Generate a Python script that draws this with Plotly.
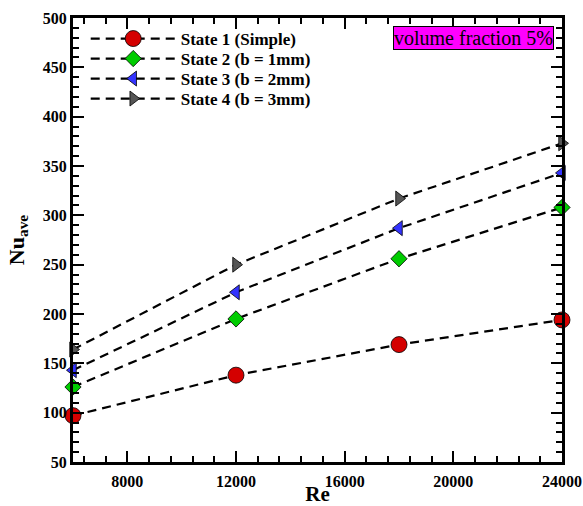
import plotly.graph_objects as go

re_vals = [6000, 12000, 18000, 24000]
state1 = [97, 138, 169, 194]
state2 = [126, 195, 256, 308]
state3 = [143, 222, 287, 343]
state4 = [164, 250, 317, 373]
names = ["State 1 (Simple)", "State 2 (b = 1mm)", "State 3 (b = 2mm)", "State 4 (b = 3mm)"]
series = [state1, state2, state3, state4]
colors = ["#d40000", "#00cc00", "#3333ff", "#555555"]
symbols = ["circle", "diamond", "triangle-left", "triangle-right"]
sizes = [16, 12.5, 13, 13]
legend_ids = ["legend", "legend2", "legend3", "legend4"]
legend_y = [0.9527, 0.9077, 0.8626, 0.8176]

font = "Liberation Serif"
fig = go.Figure()
for n, s, c, sym, sz, lg in zip(names, series, colors, symbols, sizes, legend_ids):
    fig.add_trace(go.Scatter(
        x=re_vals, y=s, name=n, mode="lines+markers", legend=lg,
        line=dict(color="black", width=2.2, dash="9px,6px"),
        marker=dict(symbol=sym, color=c, size=sz, line=dict(color="black", width=0.8)),
        cliponaxis=False,
    ))
# empty trace to register the overlay axes used for mirrored minor ticks
fig.add_trace(go.Scatter(x=[], y=[], xaxis="x2", yaxis="y2", showlegend=False, hoverinfo="skip"))

tick_common = dict(
    ticks="inside", ticklen=11, tickwidth=2, tickcolor="black",
    showgrid=False, zeroline=False, automargin=False,
)
xminor = dict(ticks="inside", ticklen=6, tickwidth=1.5, tickcolor="black", dtick=800, tick0=0, showgrid=False)
yminor = dict(ticks="inside", ticklen=6, tickwidth=1.5, tickcolor="black", dtick=10, tick0=0, showgrid=False)
xticks = [8000, 12000, 16000, 20000, 24000]

fig.update_layout(
    xaxis=dict(
        range=[6000, 24000], tickvals=xticks, tickformat="d",
        showline=True, linecolor="black", linewidth=3, mirror=True,
        minor=xminor, ticklabelstandoff=3,
        tickfont=dict(family=font, size=16, color="black", weight="bold"),
        title=dict(text="<b>Re</b>", font=dict(family=font, size=21, color="black"), standoff=10),
        **tick_common,
    ),
    yaxis=dict(
        range=[50, 500], dtick=50,
        showline=True, linecolor="black", linewidth=3, mirror=True,
        minor=yminor, ticklabelstandoff=0,
        tickfont=dict(family=font, size=16, color="black", weight="bold"),
        title=dict(text="<b>Nu<sub>ave</sub></b>", font=dict(family=font, size=22, color="black"), standoff=13),
        **tick_common,
    ),
    xaxis2=dict(
        overlaying="x", side="top", matches="x", anchor="y2",
        range=[6000, 24000], tickvals=xticks, showticklabels=False,
        minor=xminor, **tick_common,
    ),
    yaxis2=dict(
        overlaying="y", side="right", matches="y", anchor="x2",
        range=[50, 500], dtick=50, showticklabels=False,
        minor=yminor, **tick_common,
    ),
)
fig.add_annotation(
    x=0.984, y=0.982, xref="paper", yref="paper", xanchor="right", yanchor="top",
    text="volume fraction 5%", showarrow=False,
    font=dict(family=font, size=20, color="black"),
    bgcolor="#ff00ff", bordercolor="black", borderwidth=1, borderpad=0,
)
legend_common = dict(
    x=0.026, xanchor="left", yanchor="middle",
    bgcolor="rgba(0,0,0,0)", itemwidth=85,
    font=dict(family=font, size=17, color="black", weight="bold"),
)
fig.update_layout(
    width=583, height=506,
    margin=dict(l=73, r=21, t=18, b=44),
    paper_bgcolor="white", plot_bgcolor="white",
    showlegend=True,
    **{lg: dict(y=ly, **legend_common) for lg, ly in zip(legend_ids, legend_y)},
)
fig.write_html(
    "out.html",
    config={"displayModeBar": False},
    post_script="document.body.style.margin='0';document.body.style.overflow='hidden';",
)
